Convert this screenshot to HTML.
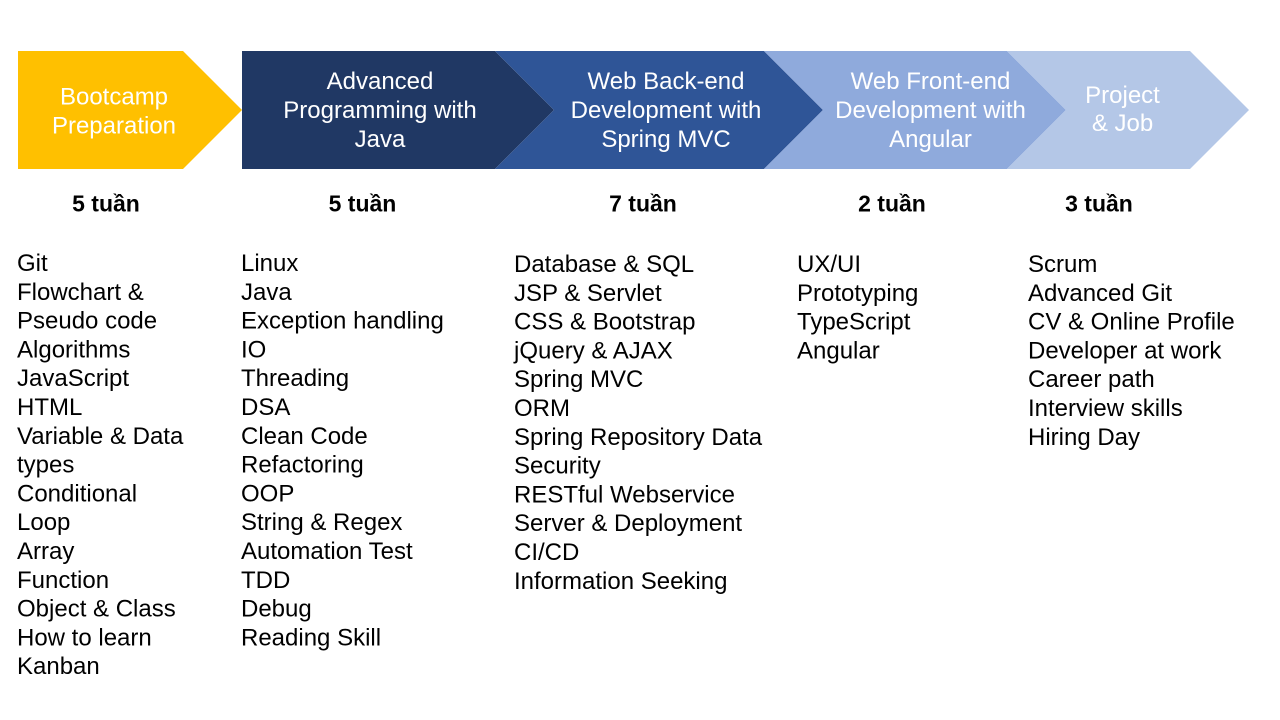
<!DOCTYPE html>
<html>
<head>
<meta charset="utf-8">
<style>
  html, body { margin:0; padding:0; background:#ffffff; }
  body { width:1280px; height:720px; overflow:hidden; }
  svg { display:block; }
  .hd { font-family:"Liberation Sans", Arial, sans-serif; font-size:24px; fill:#ffffff; }
  .dur { font-family:"Liberation Sans", Arial, sans-serif; font-size:23px; font-weight:bold; fill:#000000; }
  .it { font-family:"Liberation Sans", Arial, sans-serif; font-size:24px; fill:#000000; }
</style>
</head>
<body>
<svg width="1280" height="720" viewBox="0 0 1280 720" xmlns="http://www.w3.org/2000/svg">
  <rect x="0" y="0" width="1280" height="720" fill="#ffffff"/>
  <!-- chevrons -->
  <polygon points="18,51 183,51 242,110 183,169 18,169" fill="#FFC000"/>
  <polygon points="242,51 495,51 554,110 495,169 242,169" fill="#203864"/>
  <polygon points="495,51 764,51 823,110 764,169 495,169 554,110" fill="#2F5597"/>
  <polygon points="764,51 1007,51 1066,110 1007,169 764,169 823,110" fill="#8FAADC"/>
  <polygon points="1007,51 1190,51 1249,110 1190,169 1007,169 1066,110" fill="#B4C7E7"/>

  <!-- header labels -->
  <g class="hd" text-anchor="middle">
    <text x="114" y="104.5">Bootcamp</text>
    <text x="114" y="133.5">Preparation</text>

    <text x="380" y="89">Advanced</text>
    <text x="380" y="118">Programming with</text>
    <text x="380" y="147">Java</text>

    <text x="666" y="89">Web Back-end</text>
    <text x="666" y="118">Development with</text>
    <text x="666" y="147">Spring MVC</text>

    <text x="930.5" y="89">Web Front-end</text>
    <text x="930.5" y="118">Development with</text>
    <text x="930.5" y="147">Angular</text>

    <text x="1122.5" y="103">Project</text>
    <text x="1122.5" y="131">&amp; Job</text>
  </g>

  <!-- durations -->
  <g class="dur" text-anchor="middle">
    <text x="106" y="211.5">5 tuần</text>
    <text x="362.5" y="211.5">5 tuần</text>
    <text x="643" y="211.5">7 tuần</text>
    <text x="892" y="211.5">2 tuần</text>
    <text x="1099" y="211.5">3 tuần</text>
  </g>

  <!-- column 1 -->
  <g class="it">
    <text x="17" y="271">Git</text>
    <text x="17" y="299.8">Flowchart &amp;</text>
    <text x="17" y="328.6">Pseudo code</text>
    <text x="17" y="357.4">Algorithms</text>
    <text x="17" y="386.2">JavaScript</text>
    <text x="17" y="415">HTML</text>
    <text x="17" y="443.8">Variable &amp; Data</text>
    <text x="17" y="472.6">types</text>
    <text x="17" y="501.4">Conditional</text>
    <text x="17" y="530.2">Loop</text>
    <text x="17" y="559">Array</text>
    <text x="17" y="587.8">Function</text>
    <text x="17" y="616.6">Object &amp; Class</text>
    <text x="17" y="645.4">How to learn</text>
    <text x="17" y="674.2">Kanban</text>
  </g>

  <!-- column 2 -->
  <g class="it">
    <text x="241" y="271">Linux</text>
    <text x="241" y="299.8">Java</text>
    <text x="241" y="328.6">Exception handling</text>
    <text x="241" y="357.4">IO</text>
    <text x="241" y="386.2">Threading</text>
    <text x="241" y="415">DSA</text>
    <text x="241" y="443.8">Clean Code</text>
    <text x="241" y="472.6">Refactoring</text>
    <text x="241" y="501.4">OOP</text>
    <text x="241" y="530.2">String &amp; Regex</text>
    <text x="241" y="559">Automation Test</text>
    <text x="241" y="587.8">TDD</text>
    <text x="241" y="616.6">Debug</text>
    <text x="241" y="645.4">Reading Skill</text>
  </g>

  <!-- column 3 -->
  <g class="it">
    <text x="514" y="272">Database &amp; SQL</text>
    <text x="514" y="300.8">JSP &amp; Servlet</text>
    <text x="514" y="329.6">CSS &amp; Bootstrap</text>
    <text x="514" y="358.4">jQuery &amp; AJAX</text>
    <text x="514" y="387.2">Spring MVC</text>
    <text x="514" y="416">ORM</text>
    <text x="514" y="444.8">Spring Repository Data</text>
    <text x="514" y="473.6">Security</text>
    <text x="514" y="502.4">RESTful Webservice</text>
    <text x="514" y="531.2">Server &amp; Deployment</text>
    <text x="514" y="560">CI/CD</text>
    <text x="514" y="588.8">Information Seeking</text>
  </g>

  <!-- column 4 -->
  <g class="it">
    <text x="797" y="272">UX/UI</text>
    <text x="797" y="300.8">Prototyping</text>
    <text x="797" y="329.6">TypeScript</text>
    <text x="797" y="358.4">Angular</text>
  </g>

  <!-- column 5 -->
  <g class="it">
    <text x="1028" y="272">Scrum</text>
    <text x="1028" y="300.8">Advanced Git</text>
    <text x="1028" y="329.6">CV &amp; Online Profile</text>
    <text x="1028" y="358.4">Developer at work</text>
    <text x="1028" y="387.2">Career path</text>
    <text x="1028" y="416">Interview skills</text>
    <text x="1028" y="444.8">Hiring Day</text>
  </g>
</svg>
</body>
</html>
